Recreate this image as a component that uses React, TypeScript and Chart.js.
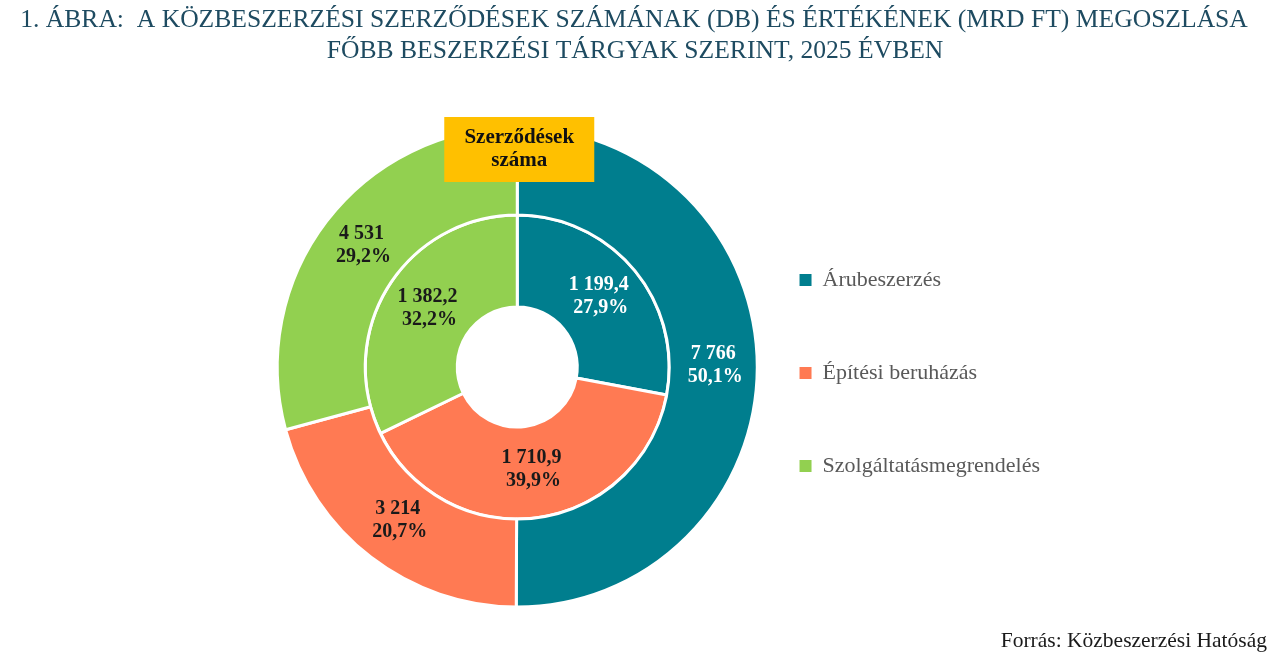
import React, { useEffect, useRef } from "react";
import { Chart, registerables } from "chart.js";

Chart.register(...registerables);

const categories = ["Árubeszerzés", "Építési beruházás", "Szolgáltatásmegrendelés"];
const contractCounts = [7766, 3214, 4531]; // db (outer ring)
const contractValues = [1199.4, 1710.9, 1382.2]; // Mrd Ft (inner ring)
const colors = ["#007E8E", "#FF7A53", "#92D050"];
const titleLines = [
  "1. ÁBRA:  A KÖZBESZERZÉSI SZERZŐDÉSEK SZÁMÁNAK (DB) ÉS ÉRTÉKÉNEK (MRD FT) MEGOSZLÁSA",
  "FŐBB BESZERZÉSI TÁRGYAK SZERINT, 2025 ÉVBEN",
];
const boxLabel = ["Szerződések", "száma"];
const sourceText = "Forrás: Közbeszerzési Hatóság";

const FONT = '"Liberation Serif", "Times New Roman", serif';

function fmtNumber(v: number, decimals: number): string {
  const fixed = v.toFixed(decimals);
  const [intPart, dec] = fixed.split(".");
  const grouped = intPart.replace(/\B(?=(\d{3})+(?!\d))/g, "\u00a0");
  return dec !== undefined ? grouped + "," + dec : grouped;
}

const labelPlugin = {
  id: "ringLabels",
  afterDatasetsDraw(chart: any) {
    const ctx = chart.ctx;
    ctx.save();
    chart.data.datasets.forEach((ds: any, d: number) => {
      const meta = chart.getDatasetMeta(d);
      const total = ds.data.reduce((a: number, b: number) => a + b, 0);
      const decimals = d === 0 ? 0 : 1;
      meta.data.forEach((arc: any, i: number) => {
        const p = arc.tooltipPosition(false);
        const v = ds.data[i];
        const pct = fmtNumber((v / total) * 100, 1) + "%";
        ctx.font = `bold 20px ${FONT}`;
        ctx.textAlign = "center";
        ctx.textBaseline = "middle";
        ctx.fillStyle = i === 0 ? "#ffffff" : "#1a1a1a";
        ctx.fillText(fmtNumber(v, decimals), p.x, p.y - 14);
        ctx.fillText(pct, p.x + 2, p.y + 9);
      });
    });
    // label box for the outer ring
    const meta0 = chart.getDatasetMeta(0);
    const a0 = meta0.data[0];
    if (a0) {
      const cx = a0.x;
      const cy = a0.y;
      const left = cx - 73;
      const top = cy - 250;
      ctx.fillStyle = "#FFC000";
      ctx.fillRect(left, top, 150, 65);
      ctx.fillStyle = "#111111";
      ctx.font = `bold 21px ${FONT}`;
      ctx.textAlign = "center";
      ctx.textBaseline = "middle";
      ctx.fillText(boxLabel[0], left + 75, top + 21);
      ctx.fillText(boxLabel[1], left + 75, top + 44);
    }
    ctx.restore();
  },
  afterDraw(chart: any) {
    const ctx = chart.ctx;
    ctx.save();
    // title
    ctx.font = `25.6px ${FONT}`;
    ctx.textAlign = "center";
    ctx.textBaseline = "middle";
    ctx.fillStyle = "#1E4B61";
    ctx.fillText(titleLines[0], 634, 20);
    ctx.fillText(titleLines[1], 635, 51);
    // source
    ctx.font = `21.5px ${FONT}`;
    ctx.textAlign = "right";
    ctx.fillStyle = "#1a1a1a";
    ctx.fillText(sourceText, chart.width - 13, chart.height - 21);
    ctx.restore();
  },
};

export default function App() {
  const canvasRef = useRef<HTMLCanvasElement | null>(null);

  useEffect(() => {
    document.body.style.margin = "0";
    document.body.style.overflow = "hidden";
    const canvas = canvasRef.current;
    if (!canvas) return;
    const baseGen = (Chart as any).overrides.doughnut.plugins.legend.labels.generateLabels;
    const chart = new Chart(canvas, {
      type: "doughnut",
      data: {
        labels: categories,
        datasets: [
          {
            label: "Szerződések száma (db)",
            data: contractCounts,
            backgroundColor: colors,
            borderColor: "#ffffff",
            borderWidth: 3,
            weight: 88,
          },
          {
            label: "Szerződések értéke (Mrd Ft)",
            data: contractValues,
            backgroundColor: colors,
            borderColor: "#ffffff",
            borderWidth: 3,
            weight: 92,
          },
        ],
      },
      options: {
        animation: false,
        responsive: true,
        maintainAspectRatio: false,
        radius: 240,
        cutout: "25%",
        layout: { padding: { left: 306, right: 230, top: 76, bottom: 4 } },
        plugins: {
          title: { display: false },
          legend: {
            position: "right",
            title: {
              display: true,
              text: "",
              padding: 0,
              font: { family: FONT, size: 10, lineHeight: 1.2 },
            },
            labels: {
              color: "#595959",
              font: { family: FONT, size: 22 },
              boxWidth: 12,
              boxHeight: 12,
              padding: 71,
              generateLabels: (c: any) =>
                baseGen(c).map((it: any) => ({ ...it, lineWidth: 0, strokeStyle: "rgba(0,0,0,0)" })),
            },
          },
          tooltip: { enabled: false },
        },
      } as any,
      plugins: [labelPlugin],
    });
    return () => chart.destroy();
  }, []);

  return (
    <div style={{ position: "relative", width: "1280px", height: "662px", background: "#fff" }}>
      <canvas ref={canvasRef} />
    </div>
  );
}
